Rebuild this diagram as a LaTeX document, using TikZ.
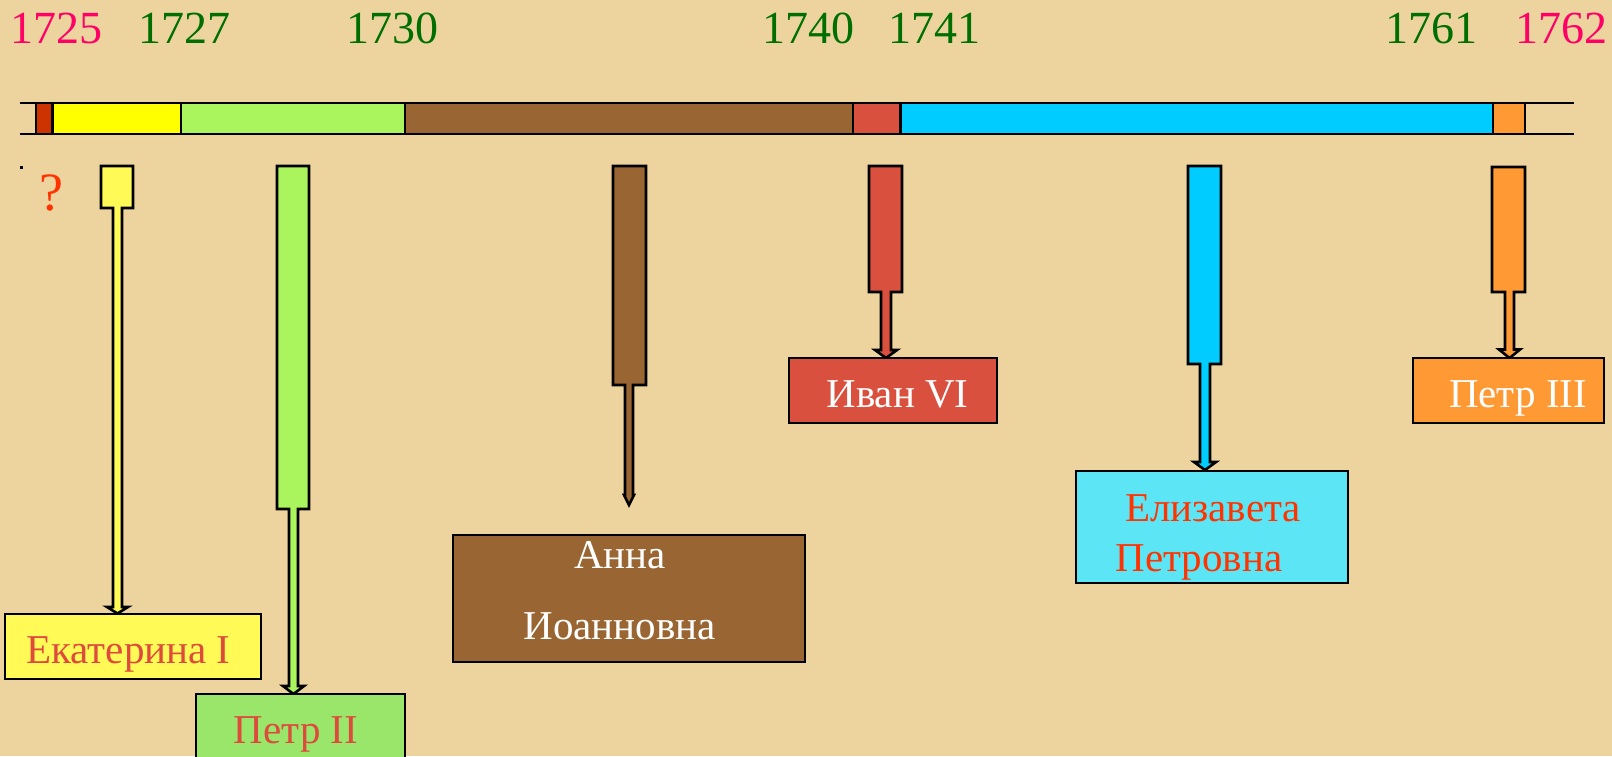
\documentclass[tikz,border=0pt]{standalone}
\usepackage{fontspec}
\setmainfont{Liberation Serif}
\definecolor{bg}{HTML}{EDD49E}
\definecolor{segred}{HTML}{CC3300}
\definecolor{segyel}{HTML}{FFFF00}
\definecolor{arryel}{HTML}{FFFA55}
\definecolor{seggrn}{HTML}{AAF55D}
\definecolor{segbrn}{HTML}{996633}
\definecolor{segivan}{HTML}{D9503F}
\definecolor{segcyan}{HTML}{00CCFF}
\definecolor{segorg}{HTML}{FF9933}
\definecolor{boxgrn}{HTML}{99E66A}
\definecolor{boxcyan}{HTML}{5CE6F5}
\definecolor{yrpink}{HTML}{FF0066}
\definecolor{yrgreen}{HTML}{006E00}
\definecolor{txtred}{HTML}{DE4A3C}
\definecolor{txtorange}{HTML}{FF3300}
\tikzset{
  seg/.style={draw=black, line width=2.4pt},
  reign/.style={draw=black, line width=2.6pt, line join=miter},
  box/.style={draw=black, line width=2.4pt, inner sep=0pt},
  year/.style={inner sep=0pt, font=\fontsize{46}{54}\selectfont},
  lbl/.style={inner sep=0pt, anchor=base, font=\fontsize{41}{48}\selectfont},
}
\begin{document}
\begin{tikzpicture}[x=1pt,y=-1pt]
\useasboundingbox (0,0) rectangle (1612,756);
\fill[bg] (0,0) rectangle (1612,756);
% years
\node[year, text=yrpink] (y1725) at (56,28.4) {1725};
\node[year, text=yrgreen] (y1727) at (184,28.4) {1727};
\node[year, text=yrgreen] (y1730) at (392,28.4) {1730};
\node[year, text=yrgreen] (y1740) at (808,28.4) {1740};
\node[year, text=yrgreen] (y1741) at (934.5,28.4) {1741};
\node[year, text=yrgreen] (y1761) at (1431,28.4) {1761};
\node[year, text=yrpink] (y1762) at (1561,28.4) {1762};
% timeline
\draw[line width=2pt] (20,103) -- (1574,103);
\draw[line width=2pt] (20,134) -- (1574,134);
\draw[seg, fill=segred] (36,103) rectangle (52.5,134);
\draw[seg, fill=segyel] (52.5,103) rectangle (181,134);
\draw[seg, fill=seggrn] (181,103) rectangle (405,134);
\draw[seg, fill=segbrn] (405,103) rectangle (853,134);
\draw[seg, fill=segivan] (853,103) rectangle (900.5,134);
\draw[seg, fill=segcyan] (900.5,103) rectangle (1492.7,134);
\draw[seg, fill=segorg] (1492.7,103) rectangle (1525,134);
% small dot and question mark
\fill[black] (19.5,166) rectangle (22.5,169);
\node[inner sep=0pt, text=txtorange, font=\fontsize{54}{60}\selectfont] (q) at (51.7,192.5) {?};
% reign arrows
\draw[reign, fill=arryel] (101,166) -- (133,166) -- (133,208) -- (122,208) -- (122,607) -- (128,607) -- (117.5,613.5) -- (107,607) -- (113,607) -- (113,208) -- (101,208) -- cycle;
\draw[reign, fill=seggrn] (277,166) -- (309,166) -- (309,509) -- (298,509) -- (298,686) -- (304,686) -- (293.5,694) -- (283,686) -- (289,686) -- (289,509) -- (277,509) -- cycle;
\draw[reign, fill=segbrn] (613,166) -- (646,166) -- (646,385) -- (633,385) -- (633,495) -- (634,495) -- (629,505) -- (624,495) -- (625,495) -- (625,385) -- (613,385) -- cycle;
\draw[reign, fill=segivan] (869,166) -- (902,166) -- (902,292) -- (891,292) -- (891,350) -- (897,350) -- (886,358) -- (875,350) -- (881,350) -- (881,292) -- (869,292) -- cycle;
\draw[reign, fill=segcyan] (1188,166) -- (1221,166) -- (1221,364) -- (1210,364) -- (1210,462) -- (1216,462) -- (1205,470) -- (1194,462) -- (1200,462) -- (1200,364) -- (1188,364) -- cycle;
\draw[reign, fill=segorg] (1492,167) -- (1525,167) -- (1525,292) -- (1514,292) -- (1514,349.5) -- (1520,349.5) -- (1509.5,358) -- (1499,349.5) -- (1505,349.5) -- (1505,292) -- (1492,292) -- cycle;
% name boxes
\node[box, fill=arryel, minimum width=256pt, minimum height=65pt] (ekat) at (133,646.5) {};
\node[box, fill=boxgrn, minimum width=209pt, minimum height=70pt] (petr2) at (300.5,729) {};
\node[box, fill=segbrn, minimum width=352pt, minimum height=127pt] (anna) at (629,598.5) {};
\node[box, fill=segivan, minimum width=208pt, minimum height=65pt] (ivan) at (893,390.5) {};
\node[box, fill=boxcyan, minimum width=272pt, minimum height=112pt] (eliz) at (1212,527) {};
\node[box, fill=segorg, minimum width=191pt, minimum height=65pt] (petr3) at (1508.5,390.5) {};
% labels
\node[lbl, text=txtred] (tekat) at (128.5,663) {Екатерина I};
\node[lbl, text=txtred] (tpetr2) at (296,743) {Петр II};
\node[lbl, text=white] (tanna1) at (620,568.5) {Анна};
\node[lbl, text=white] (tanna2) at (619.5,639.5) {Иоанновна};
\node[lbl, text=white] (tivan) at (897.5,407) {Иван VI};
\node[lbl, text=txtorange] (teliz1) at (1213,521) {Елизавета};
\node[lbl, text=txtorange] (teliz2) at (1199,571.5) {Петровна};
\node[lbl, text=white] (tpetr3) at (1518,407) {Петр III};
\end{tikzpicture}
\end{document}
